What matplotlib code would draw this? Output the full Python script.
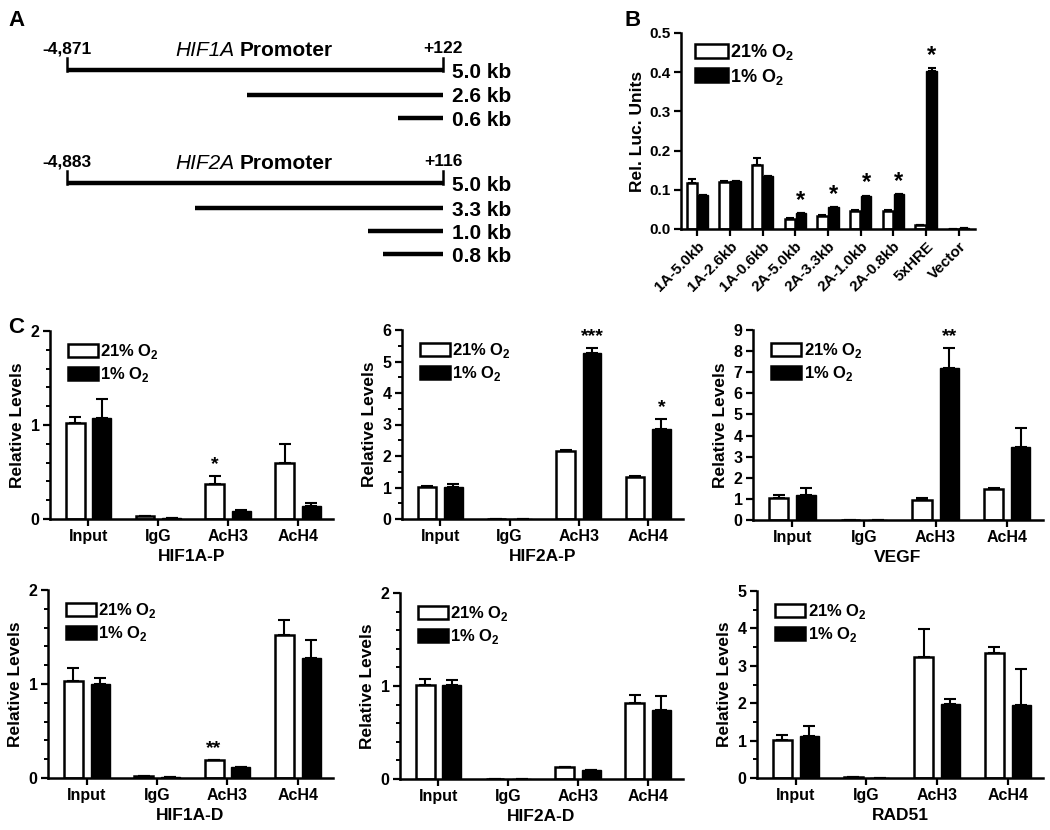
import numpy as np
import matplotlib
matplotlib.use("Agg")
import matplotlib.pyplot as plt
from matplotlib.patches import Patch

plt.rcParams["font.family"] = ["Liberation Sans", "DejaVu Sans"]
plt.rcParams["font.weight"] = "bold"
plt.rcParams["mathtext.fontset"] = "custom"
plt.rcParams["mathtext.bf"] = "Liberation Sans:bold"
plt.rcParams["mathtext.rm"] = "Liberation Sans:bold"

# ---- Panel A: promoter constructs ----
hif1a_start, hif1a_end = -4871, 122
hif1a_lengths = [5.0, 2.6, 0.6]
hif2a_start, hif2a_end = -4883, 116
hif2a_lengths = [5.0, 3.3, 1.0, 0.8]

# ---- Panel B: luciferase ----
luc_labels = ["1A-5.0kb", "1A-2.6kb", "1A-0.6kb", "2A-5.0kb", "2A-3.3kb",
              "2A-1.0kb", "2A-0.8kb", "5xHRE", "Vector"]
luc_21 = [0.117, 0.119, 0.162, 0.026, 0.034, 0.047, 0.047, 0.009, 0.001]
luc_21_err = [0.010, 0.004, 0.018, 0.001, 0.001, 0.001, 0.001, 0.002, 0.0]
luc_1 = [0.087, 0.122, 0.135, 0.040, 0.055, 0.083, 0.089, 0.403, 0.002]
luc_1_err = [0.001, 0.001, 0.001, 0.001, 0.001, 0.002, 0.001, 0.008, 0.0]
luc_stars = [3, 4, 5, 6, 7]

# ---- Panel C: ChIP ----
chip_groups = ["Input", "IgG", "AcH3", "AcH4"]

hif1a_p_21 = [1.02, 0.035, 0.375, 0.60]
hif1a_p_21_err = [0.07, 0.0, 0.08, 0.20]
hif1a_p_1 = [1.07, 0.01, 0.09, 0.143]
hif1a_p_1_err = [0.21, 0.0, 0.01, 0.03]

hif2a_p_21 = [1.02, 0.01, 2.17, 1.33]
hif2a_p_21_err = [0.04, 0.0, 0.03, 0.02]
hif2a_p_1 = [1.03, 0.01, 5.26, 2.87]
hif2a_p_1_err = [0.07, 0.0, 0.17, 0.32]

vegf_21 = [1.05, 0.02, 0.93, 1.45]
vegf_21_err = [0.12, 0.0, 0.12, 0.05]
vegf_1 = [1.20, 0.0, 7.19, 3.45]
vegf_1_err = [0.33, 0.0, 0.94, 0.90]

hif1a_d_21 = [1.03, 0.02, 0.195, 1.52]
hif1a_d_21_err = [0.14, 0.0, 0.0, 0.16]
hif1a_d_1 = [1.00, 0.01, 0.117, 1.28]
hif1a_d_1_err = [0.06, 0.0, 0.0, 0.19]

hif2a_d_21 = [1.01, 0.005, 0.13, 0.82]
hif2a_d_21_err = [0.06, 0.0, 0.0, 0.08]
hif2a_d_1 = [1.01, 0.003, 0.10, 0.74]
hif2a_d_1_err = [0.05, 0.0, 0.0, 0.15]

rad51_21 = [1.02, 0.02, 3.24, 3.33]
rad51_21_err = [0.13, 0.0, 0.74, 0.18]
rad51_1 = [1.11, 0.0, 1.98, 1.95]
rad51_1_err = [0.29, 0.0, 0.13, 0.96]

W, H = 1050, 830
fig = plt.figure(figsize=(W / 100, H / 100), dpi=100)


def px_axes(left, top, right, bottom):
    return fig.add_axes([left / W, 1 - bottom / H, (right - left) / W, (bottom - top) / H])


def style_axes(ax, labelsize=11):
    for s in ["top", "right"]:
        ax.spines[s].set_visible(False)
    for s in ["left", "bottom"]:
        ax.spines[s].set_linewidth(1.8)
    ax.tick_params(width=1.6, length=5, labelsize=labelsize, pad=2.5)
    ax.tick_params(which="minor", width=1.4, length=3)
    for lab in ax.get_xticklabels() + ax.get_yticklabels():
        lab.set_fontweight("bold")


def legend_o2(ax, ax_w, ax_h, dx, dy, fs=12):
    handles = [Patch(facecolor="white", edgecolor="black", linewidth=1.8),
               Patch(facecolor="black", edgecolor="black", linewidth=1.8)]
    ax.legend(handles, [r"21% O$_\mathbf{2}$", r"1% O$_\mathbf{2}$"], loc="upper left",
              frameon=False, handlelength=1.8, handleheight=0.8, handletextpad=0.15,
              labelspacing=0.25, borderaxespad=0, borderpad=0,
              prop={"weight": "bold", "size": fs},
              bbox_to_anchor=(dx / ax_w, 1 - dy / ax_h))


# ---------------- Panel A ----------------
axA = px_axes(67, 0, 443, 300)
axA.set_xlim(0, 1)
axA.set_ylim(300, 0)
axA.axis("off")

blocks = [(hif1a_start, hif1a_end, hif1a_lengths, "HIF1A", 70, 23),
          (hif2a_start, hif2a_end, hif2a_lengths, "HIF2A", 183, 23)]
for start, end, lengths, gene, y0, dy in blocks:
    span = end - start
    for i, kb in enumerate(lengths):
        y = y0 + i * dy + (2 if i > 0 else 0)
        x0 = max(0.0, (end - kb * 1000 - start) / span)
        axA.plot([x0, 1], [y, y], color="black", lw=3.2, solid_capstyle="butt", clip_on=False)
        axA.text(1.024, y + 2, f"{kb:.1f} kb", fontsize=15, fontweight="bold",
                 va="center", ha="left", clip_on=False)
    axA.plot([0, 0], [y0 - 12, y0 + 1], color="black", lw=1.8, clip_on=False)
    axA.plot([1, 1], [y0 - 12, y0 + 1], color="black", lw=1.8, clip_on=False)
    axA.text(0, y0 - 14, f"{start:,}", fontsize=12.5, fontweight="bold", ha="center", va="bottom")
    axA.text(1, y0 - 14, f"+{end}", fontsize=12.5, fontweight="bold", ha="center", va="bottom")
    axA.text(0.445, y0 - 10, gene, fontsize=15, style="italic", fontweight="normal",
             ha="right", va="bottom")
    axA.text(0.46, y0 - 10, "Promoter", fontsize=15, fontweight="bold", ha="left", va="bottom")

# ---------------- Panel B ----------------
bl, bt, br, bb = 681, 33, 975, 229
axB = px_axes(bl, bt, br, bb)
xb = np.arange(len(luc_labels))
bw = 0.32
axB.bar(xb - 0.17, luc_21, bw, color="white", edgecolor="black", linewidth=1.8, zorder=2)
axB.bar(xb + 0.17, luc_1, bw, color="black", edgecolor="black", linewidth=1.0, zorder=2)
axB.errorbar(xb - 0.17, luc_21, yerr=[np.zeros(len(xb)), luc_21_err], fmt="none",
             ecolor="black", elinewidth=1.5, capsize=3, capthick=1.5, zorder=1)
axB.errorbar(xb + 0.17, luc_1, yerr=[np.zeros(len(xb)), luc_1_err], fmt="none",
             ecolor="black", elinewidth=1.5, capsize=3, capthick=1.5, zorder=1)
for i in luc_stars:
    axB.text(xb[i] + 0.17, luc_1[i] + luc_1_err[i] + 0.003, "*", ha="center", va="bottom",
             fontsize=17, fontweight="bold")
axB.set_xlim(-0.5, 8.5)
axB.set_ylim(0, 0.5)
axB.set_yticks(np.arange(0, 0.51, 0.1))
axB.set_yticklabels([f"{v:.1f}" for v in np.arange(0, 0.51, 0.1)])
axB.set_xticks(xb)
axB.set_xticklabels(luc_labels, rotation=45, ha="right", rotation_mode="anchor")
axB.set_ylabel("Rel. Luc. Units", fontsize=12.5, fontweight="bold", labelpad=3)
style_axes(axB, labelsize=11)
legend_o2(axB, br - bl, bb - bt, 14, 9, fs=13)

# ---------------- Panel C ----------------
panels = [
    ((50, 331, 333, 519), "HIF1A-P", 2, 1, 0.2, hif1a_p_21, hif1a_p_21_err, hif1a_p_1, hif1a_p_1_err,
     [(2, 0, "*")]),
    ((402, 330, 683, 519), "HIF2A-P", 6, 1, 0.5, hif2a_p_21, hif2a_p_21_err, hif2a_p_1, hif2a_p_1_err,
     [(2, 1, "***"), (3, 1, "*")]),
    ((753, 330, 1043, 520), "VEGF", 9, 1, None, vegf_21, vegf_21_err, vegf_1, vegf_1_err,
     [(2, 1, "**")]),
    ((48, 590, 333, 778), "HIF1A-D", 2, 1, 0.2, hif1a_d_21, hif1a_d_21_err, hif1a_d_1, hif1a_d_1_err,
     [(2, 0, "**")]),
    ((400, 593, 683, 779), "HIF2A-D", 2, 1, 0.2, hif2a_d_21, hif2a_d_21_err, hif2a_d_1, hif2a_d_1_err,
     []),
    ((757, 591, 1043, 778), "RAD51", 5, 1, 0.5, rad51_21, rad51_21_err, rad51_1, rad51_1_err,
     []),
]

xc = np.arange(len(chip_groups))
for box, name, ymax, major, minor, w, we, b, be, stars in panels:
    ax = px_axes(*box)
    cw = 0.27
    ax.bar(xc - 0.19, w, cw, color="white", edgecolor="black", linewidth=1.8, zorder=2)
    ax.bar(xc + 0.19, b, cw, color="black", edgecolor="black", linewidth=1.0, zorder=2)
    ax.errorbar(xc - 0.19, w, yerr=[np.zeros(4), we], fmt="none", ecolor="black",
                elinewidth=1.5, capsize=4, capthick=1.5, zorder=1)
    ax.errorbar(xc + 0.19, b, yerr=[np.zeros(4), be], fmt="none", ecolor="black",
                elinewidth=1.5, capsize=4, capthick=1.5, zorder=1)
    for gi, si, txt in stars:
        vals, errs = (w, we) if si == 0 else (b, be)
        xs = xc[gi] + (-0.19 if si == 0 else 0.19)
        ax.text(xs, vals[gi] + errs[gi] + ymax * 0.015, txt, ha="center", va="bottom",
                fontsize=14, fontweight="bold")
    ax.set_xlim(-0.55, 3.5)
    ax.set_ylim(0, ymax)
    ax.set_yticks(np.arange(0, ymax + 0.01, major))
    if minor:
        ax.set_yticks(np.arange(0, ymax + 0.001, minor), minor=True)
    ax.set_xticks(xc)
    ax.set_xticklabels(chip_groups)
    ax.set_ylabel("Relative Levels", fontsize=12.5, fontweight="bold", labelpad=4)
    ax.set_xlabel(name, fontsize=12.5, fontweight="bold", labelpad=3)
    style_axes(ax, labelsize=11.5)
    legend_o2(ax, box[2] - box[0], box[3] - box[1], 18, 11, fs=12)

# panel letters
fig.text(8 / W, 1 - 20 / H, "A", fontsize=16, fontweight="bold", va="center")
fig.text(625 / W, 1 - 20 / H, "B", fontsize=16, fontweight="bold", va="center")
fig.text(8 / W, 1 - 327 / H, "C", fontsize=16, fontweight="bold", va="center")

fig.savefig("out.png", dpi=100)
